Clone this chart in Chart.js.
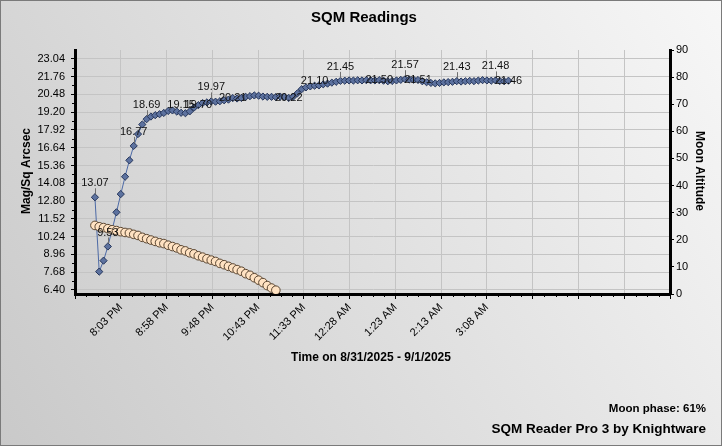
<!DOCTYPE html>
<html><head><meta charset="utf-8">
<script src="https://cdn.jsdelivr.net/npm/chart.js@4.4.1/dist/chart.umd.min.js"></script>
<style>html,body{margin:0;padding:0;background:#fff;overflow:hidden}canvas{display:block}</style>
</head><body>
<canvas id="c" width="722" height="446"></canvas>
<script>
// ---- data ----
const sqmReadings = [13.07, 7.72, 8.51, 9.53, 10.75, 11.99, 13.30, 14.55, 15.73, 16.77,
  17.62, 18.31, 18.69, 18.88, 18.98, 19.05, 19.14, 19.28, 19.32, 19.24,
  19.15, 19.12, 19.25, 19.52, 19.70, 19.85, 19.90, 19.97, 19.95, 19.98,
  20.05, 20.10, 20.21, 20.18, 20.22, 20.30, 20.35, 20.40, 20.38, 20.32,
  20.30, 20.30, 20.28, 20.32, 20.30, 20.22, 20.30, 20.55, 20.85, 20.98,
  21.05, 21.10, 21.12, 21.20, 21.25, 21.32, 21.38, 21.45, 21.46, 21.48,
  21.47, 21.49, 21.48, 21.50, 21.49, 21.48, 21.50, 21.46, 21.42, 21.44,
  21.48, 21.52, 21.57, 21.55, 21.53, 21.51, 21.42, 21.35, 21.30, 21.27,
  21.30, 21.34, 21.36, 21.38, 21.43, 21.40, 21.42, 21.45, 21.43, 21.47,
  21.50, 21.48, 21.46, 21.48, 21.44, 21.42, 21.46];
const moonAltitude = [25.3, 24.8, 24.5, 24.1, 23.7, 23.4, 23.0, 22.7, 22.5, 22.0,
  21.6, 20.9, 20.4, 19.9, 19.4, 18.9, 18.6, 18.0, 17.5, 17.0,
  16.3, 15.9, 15.2, 14.8, 14.1, 13.6, 13.0, 12.5, 12.0, 11.3,
  10.8, 10.2, 9.6, 9.0, 8.4, 7.5, 6.9, 6.0, 5.1, 4.2,
  3.1, 2.2, 1.4];
const labeledReadings = [0, 3, 9, 12, 20, 24, 27, 32, 45, 51, 57, 66, 72, 75, 84, 93, 96];
const xTickLabels = ["", "8:03 PM", "8:58 PM", "9:48 PM", "10:43 PM", "11:33 PM", "12:28 AM",
  "1:23 AM", "2:13 AM", "3:08 AM", "", "", "", ""];
const leftTickValues = [6.40, 7.68, 8.96, 10.24, 11.52, 12.80, 14.08, 15.36, 16.64, 17.92,
  19.20, 20.48, 21.76, 23.04];
const rightTickValues = [0, 10, 20, 30, 40, 50, 60, 70, 80, 90];
const firstReadingMinute = 453;   // 7:33 PM, minutes after noon
const readingInterval = 5;        // minutes between readings
const axisStartMinute = 429.875;  // x axis origin
const axisTickSpacing = 53.125;   // minutes per major tick

const readingTimes = sqmReadings.map((_, i) => firstReadingMinute + i * readingInterval);
const sqmPoints = sqmReadings.map((v, i) => ({x: readingTimes[i], y: v}));
const moonPoints = moonAltitude.map((v, i) => ({x: readingTimes[i], y: v}));

const FONT = "'Liberation Sans', Arial, sans-serif";

const bgPlugin = {
  id: 'bg',
  beforeDraw(chart) {
    const {ctx, width, height} = chart;
    ctx.save();
    const g = ctx.createLinearGradient(0, height, width, 0);
    g.addColorStop(0, '#c9c9c9');
    g.addColorStop(1, '#f7f7f7');
    ctx.fillStyle = g;
    ctx.fillRect(0, 0, width, height);
    ctx.restore();
  },
  afterDatasetsDraw(chart) {
    const {ctx} = chart;
    const meta = chart.getDatasetMeta(1);
    const offsets = {20: 8, 51: 5, 24: 0, 32: 0, 45: 0, 66: 0, 75: 0, 96: 0};
    ctx.save();
    ctx.font = '11px ' + FONT;
    ctx.textAlign = 'center';
    ctx.textBaseline = 'middle';
    labeledReadings.forEach(i => {
      const el = meta.data[i];
      if (!el) return;
      const off = offsets[i] !== undefined ? offsets[i] : 14;
      const ty = el.y - off;
      if (off >= 8) {
        ctx.strokeStyle = '#707070';
        ctx.lineWidth = 1;
        ctx.beginPath();
        ctx.moveTo(Math.round(el.x) + 0.5, ty + 5);
        ctx.lineTo(Math.round(el.x) + 0.5, el.y - 3);
        ctx.stroke();
      }
      ctx.fillStyle = '#111';
      ctx.fillText(sqmReadings[i].toFixed(2), el.x, ty);
    });
    ctx.restore();
  },
  afterDraw(chart) {
    const {ctx, width, height, chartArea: ca} = chart;
    ctx.save();
    // minor ticks
    ctx.strokeStyle = '#000';
    ctx.lineWidth = 1;
    const xs = chart.scales.x;
    ctx.beginPath();
    for (let k = 0; k < xTickLabels.length - 1; k++) {
      for (let m = 1; m < 4; m++) {
        const px = Math.round(xs.getPixelForValue(axisStartMinute + (k + m / 4) * axisTickSpacing)) + 0.5;
        ctx.moveTo(px, ca.bottom); ctx.lineTo(px, ca.bottom + 3);
      }
    }
    const yl = chart.scales.y;
    for (let k = 0; k < leftTickValues.length; k++) {
      const v = leftTickValues[k] - 0.64;
      if (v < yl.min) continue;
      const py = Math.round(yl.getPixelForValue(v)) + 0.5;
      ctx.moveTo(ca.left - 3, py); ctx.lineTo(ca.left, py);
    }
    const yr = chart.scales.y1;
    for (let v = 2; v < 90; v += 2) {
      if (v % 10 === 0) continue;
      const py = Math.round(yr.getPixelForValue(v)) + 0.5;
      ctx.moveTo(ca.right, py); ctx.lineTo(ca.right + 2, py);
    }
    ctx.stroke();

    ctx.fillStyle = '#000';
    ctx.textBaseline = 'middle';
    ctx.textAlign = 'center';
    ctx.font = 'bold 15px ' + FONT;
    ctx.fillText('SQM Readings', 364, 18);
    ctx.font = 'bold 12px ' + FONT;
    ctx.fillText('Time on 8/31/2025 - 9/1/2025', 371, 358);
    ctx.save();
    ctx.translate(27, 171);
    ctx.rotate(-Math.PI / 2);
    ctx.fillText('Mag/Sq Arcsec', 0, 0);
    ctx.restore();
    ctx.save();
    ctx.translate(699, 171);
    ctx.rotate(Math.PI / 2);
    ctx.fillText('Moon Altitude', 0, 0);
    ctx.restore();
    ctx.textAlign = 'right';
    ctx.font = 'bold 11.5px ' + FONT;
    ctx.fillText('Moon phase: 61%', 706, 409);
    ctx.font = 'bold 13.5px ' + FONT;
    ctx.fillText('SQM Reader Pro 3 by Knightware', 706, 429);
    // outer border
    ctx.strokeStyle = '#7a7a7a';
    ctx.lineWidth = 1;
    ctx.strokeRect(0.5, 0.5, width - 1, height - 1);
    ctx.restore();
  }
};

new Chart(document.getElementById('c'), {
  type: 'line',
  data: {
    datasets: [
      {
        label: 'Moon Altitude',
        data: moonPoints,
        yAxisID: 'y1',
        showLine: false,
        order: 0,
        pointStyle: 'circle',
        pointRadius: 4.3,
        pointBackgroundColor: '#ffe2c2',
        pointBorderColor: '#5a4632',
        pointBorderWidth: 1
      },
      {
        label: 'SQM',
        data: sqmPoints,
        yAxisID: 'y',
        order: 1,
        borderColor: '#4d6aa6',
        borderWidth: 1,
        tension: 0,
        pointStyle: 'rectRot',
        pointRadius: 3.6,
        pointBackgroundColor: '#5d729f',
        pointBorderColor: '#25355a',
        pointBorderWidth: 1
      }
    ]
  },
  options: {
    responsive: false,
    animation: false,
    devicePixelRatio: 1,
    layout: {padding: {top: 50, left: 0, right: 0, bottom: 0}},
    plugins: {legend: {display: false}, tooltip: {enabled: false}, title: {display: false}},
    scales: {
      x: {
        type: 'linear',
        position: 'bottom',
        min: axisStartMinute,
        max: axisStartMinute + (xTickLabels.length - 1) * axisTickSpacing,
        afterBuildTicks: s => { s.ticks = xTickLabels.map((_, k) => ({value: axisStartMinute + k * axisTickSpacing})); },
        afterFit: s => { s.height = 152; },
        ticks: {
          autoSkip: false, maxRotation: 45, minRotation: 45, padding: 2,
          color: '#000', font: {family: FONT, size: 11},
          callback: (v, i) => xTickLabels[i]
        },
        grid: {color: '#c4c4c4', lineWidth: 1, tickLength: 5, tickColor: '#000'},
        border: {display: true, color: '#000', width: 3}
      },
      y: {
        type: 'linear',
        position: 'left',
        min: 6.11,
        max: 23.67,
        afterBuildTicks: s => { s.ticks = leftTickValues.map(v => ({value: v})); },
        afterFit: s => { s.width = 75; },
        ticks: {color: '#000', padding: 6, font: {family: FONT, size: 11}, callback: v => Number(v).toFixed(2)},
        grid: {color: '#c4c4c4', lineWidth: 1, tickLength: 4, tickColor: '#000'},
        border: {display: true, color: '#000', width: 3}
      },
      y1: {
        type: 'linear',
        position: 'right',
        min: 0,
        max: 90,
        afterBuildTicks: s => { s.ticks = rightTickValues.map(v => ({value: v})); },
        afterFit: s => { s.width = 52; },
        ticks: {color: '#000', padding: 2, font: {family: FONT, size: 11}},
        grid: {drawOnChartArea: false, tickLength: 4, tickColor: '#000'},
        border: {display: true, color: '#000', width: 3}
      }
    }
  },
  plugins: [bgPlugin]
});
</script>
</body></html>
